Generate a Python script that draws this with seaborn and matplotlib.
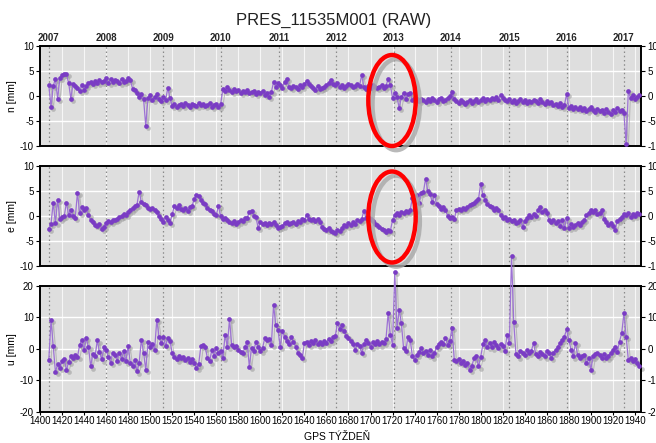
import numpy as np
import pandas as pd
import seaborn as sns
import matplotlib
matplotlib.use("Agg")
import matplotlib.pyplot as plt
import matplotlib.transforms as mtransforms
from matplotlib.patches import Ellipse

# ---------------- data ----------------
weeks = list(range(1408, 1945, 2))

n_mm = [
    2.2, -2.2, 2.0, 3.4, -0.6, 3.6, 4.2, 4.4, 4.4, 2.6,
    -0.5, 2.4, 2.0, 1.6, 1.0, 2.2, 1.2, 2.0, 2.6, 2.8,
    2.4, 3.0, 2.6, 3.2, 2.8, 3.0, 3.6, 2.6, 3.4, 2.8,
    3.2, 3.0, 2.6, 3.4, 2.8, 3.0, 3.6, 3.2, 1.5, 1.2,
    0.6, -0.2, 0.4, -0.6, -6.0, -0.4, 0.2, -0.8, -0.2, 0.4,
    -0.6, -1.0, -0.2, -0.8, 1.6, -0.4, -2.0, -1.6, -2.2, -1.8,
    -1.6, -2.0, -1.4, -1.8, -2.2, -1.6, -1.8, -2.0, -1.4, -1.8,
    -1.6, -2.0, -1.8, -1.4, -2.2, -1.8, -1.6, -2.2, -1.6, 1.4,
    1.0, 1.8, 1.2, 0.8, 1.4, 1.0, 1.2, 0.6, 1.0, 0.8,
    1.2, 0.6, 0.8, 1.0, 0.4, 0.8, 0.6, 1.0, 0.2, 0.6,
    -0.2, 0.8, 2.8, 1.8, 2.6, 2.2, 1.6, 2.8, 3.4, 1.8,
    1.6, 2.0, 1.8, 1.4, 2.2, 1.8, 2.4, 3.0, 2.4, 2.0,
    1.6, 1.2, 2.0, 1.4, 1.6, 1.8, 2.2, 2.6, 3.2, 2.4,
    2.2, 2.6, 1.8, 2.2, 1.6, 2.0, 2.4, 2.2, 1.8, 2.0,
    2.4, 2.0, 4.2, 1.8, 1.4, 2.0, 1.6, 2.2, 1.8, 1.6,
    1.8, 2.2, 1.6, 2.0, 3.4, 2.2, -0.4, 0.6, -0.2, -2.4,
    -0.2, 0.6, -0.6, 0.4, 0.6, -0.8, -0.4, -0.6, -1.0, -0.6,
    -0.8, -1.2, -0.6, -1.0, -0.4, -0.8, -1.2, -0.6, -0.4, -1.0,
    -0.8, -0.4, 0.0, 0.8, -0.6, -1.0, -1.4, -0.8, -1.2, -1.6,
    -1.2, -0.8, -1.4, -1.0, -0.6, -1.2, -0.8, -0.4, -1.0, -0.6,
    -0.8, -0.4, -0.6, -0.2, -0.8, 0.2, -0.4, -0.8, -1.0, -0.6,
    -1.2, -0.8, -1.4, -1.0, -0.6, -1.2, -0.8, -1.4, -1.0, -1.2,
    -0.8, -1.0, -1.4, -0.6, -1.2, -1.6, -1.0, -1.4, -1.2, -1.8,
    -1.6, -2.0, -1.4, -2.2, -1.8, 0.4, -2.4, -2.0, -2.6, -2.2,
    -2.6, -2.2, -2.8, -2.4, -3.0, -2.6, -2.2, -2.8, -3.2, -2.6,
    -3.0, -2.8, -3.4, -2.6, -3.2, -3.6, -2.8, -3.2, -2.4, -3.0,
    -2.8, -3.4, -9.6, 1.0, -0.4, 0.2, -0.6, -0.2, 0.2,
]

e_mm = [
    -2.5, -1.6, 2.7, -1.4, 3.3, -0.5, -0.2, 0.0, 2.7, 0.2,
    1.2, 0.0, -0.4, 4.7, 0.6, 1.8, 1.2, 1.6, 0.2, -0.8,
    -1.2, -1.8, -2.0, -1.6, -2.5, -2.2, -1.4, -1.0, -1.2, -0.8,
    -0.8, -0.6, -0.2, 0.0, 0.4, 0.2, 0.8, 1.2, 1.6, 2.0,
    2.2, 4.9, 2.8, 2.4, 2.2, 1.6, 1.4, 1.6, 1.2, 0.8,
    0.0, -0.6, -1.2, -0.2, -0.8, -1.4, 0.4, 2.0, 1.6, 2.2,
    1.4, 1.2, 1.6, 1.0, 1.8, 2.0, 3.4, 4.2, 4.0, 3.2,
    2.6, 2.4, 1.6, 1.2, 1.0, 0.4, 0.2, 2.0, 0.0, -0.6,
    -0.4, -0.8, -1.2, -1.4, -1.0, -1.6, -1.2, -0.8, -1.0, -0.4,
    -0.4, 0.8, 1.1, 0.0, -0.2, -2.4, -1.2, -1.6, -1.4, -1.8,
    -1.4, -1.6, -1.2, -1.8, -2.3, -2.2, -2.0, -1.4, -1.2, -1.6,
    -1.4, -1.2, -1.5, -1.0, -1.2, -0.5, -0.8, 0.2, -0.6, -0.8,
    -0.6, -1.0, -0.6, -1.2, -2.2, -2.6, -2.8, -2.4, -3.0, -3.2,
    -3.4, -2.8, -3.0, -2.4, -1.8, -2.0, -1.4, -1.8, -1.2, -1.6,
    -0.8, -1.0, -0.6, 1.1, -0.4, -0.2, -0.6, -1.0, -1.6, -1.8,
    -2.2, -2.6, -2.8, -3.2, -2.8, -3.0, -0.8, 0.2, 0.6, 0.2,
    0.8, 0.6, 1.0, 0.8, 1.2, 3.6, 1.2, 4.2, 2.6, 4.6,
    4.8, 7.5, 5.0, 4.4, 2.8, 4.2, 2.4, 2.0, 1.4, 1.8,
    1.2, 0.0, -0.4, -0.2, -0.6, 1.2, 1.4, 1.2, 1.6, 1.4,
    1.8, 2.2, 2.4, 2.6, 3.0, 3.4, 6.5, 4.2, 3.2, 2.4,
    2.0, 1.8, 1.2, 1.6, 1.2, 0.2, -0.4, -0.2, -0.8, -0.6,
    -1.0, -0.8, -1.4, -1.2, -0.8, -2.1, -1.0, -0.4, 0.2, -0.2,
    0.4, 0.0, 1.2, 1.9, 0.8, 1.2, 0.6, -0.8, -1.2, -0.8,
    -1.4, -1.0, -2.0, -0.8, -2.4, -0.3, -2.4, -1.6, -2.2, -1.8,
    -1.4, -1.8, -1.2, -0.8, 0.2, 0.6, 1.2, 0.8, 1.2, 0.4,
    0.6, 1.2, -0.6, -1.2, -1.8, -1.4, -2.0, -2.8, -1.0, -0.6,
    -0.2, 0.4, 0.2, 0.6, -0.2, 0.4, 0.0, 0.6, 0.4,
]

u_mm = [
    -3.5, 9.2, 1.0, -7.4, -5.0, -6.2, -4.0, -3.2, -6.8, -4.2,
    -2.4, -3.0, -2.0, -2.6, 1.2, 2.9, -0.4, 3.4, 0.6, -5.6,
    -1.6, -2.4, 2.7, -1.0, -3.4, 0.4, -0.4, -2.6, -4.4, -1.2,
    -2.0, -3.8, -1.2, -3.2, -0.8, -4.0, 0.8, -4.6, -5.4, -3.6,
    -7.2, -4.6, 2.9, -1.2, -6.8, 2.2, 0.6, 1.6, -0.4, 9.2,
    3.9, 1.8, 3.9, 0.8, 3.4, 2.4, -1.4, -2.6, -3.4, -2.4,
    -3.0, -2.6, -3.6, -2.8, -4.2, -3.2, -4.4, -6.2, -5.0, 0.8,
    1.3, 0.4, -3.0, -4.0, -0.3, -2.4, 0.2, -1.2, -0.6, -3.0,
    4.5, 0.6, 9.4, 1.3, 0.6, 1.0, -0.3, -1.0, -1.4, 0.4,
    2.3, -5.8, 0.2, -0.8, 2.3, 0.6, -0.6, 0.2, 3.4, 2.9,
    3.0, 1.3, 14.0, 7.6, 6.0, 0.7, 5.5, 3.9, 2.6, 1.4,
    3.6, 2.3, 0.7, -1.2, -1.9, -3.0, 1.8, 2.3, 1.3, 2.6,
    1.8, 2.9, 1.4, 2.3, 1.6, 2.6, 1.8, 3.2, 2.4, 3.6,
    4.0, 8.2, 6.4, 7.6, 5.5, 4.2, 3.4, 2.4, 1.6, -0.3,
    1.6, 0.8, -1.4, 1.4, 2.9, 1.8, 0.7, 2.2, 1.4, 2.6,
    1.4, 2.2, 1.8, 3.0, 11.3, 4.5, 1.3, 24.4, 6.6, 12.4,
    8.2, 0.2, -0.8, 3.9, 2.9, -2.4, -3.5, -2.0, -1.0, 0.2,
    -1.2, -0.6, -1.9, -0.4, -2.4, -1.4, 0.7, 1.4, 2.3, 1.6,
    3.4, 1.3, 2.6, 6.6, -3.5, -4.0, -3.2, -4.6, -3.8, -5.2,
    -4.6, -6.7, -5.4, -3.0, -2.4, -5.6, -2.6, 1.4, 2.9, 0.7,
    1.8, 0.4, 2.0, 1.2, 0.2, 1.6, 0.8, -0.6, 4.5, 1.8,
    29.5, 8.4, -1.6, -2.4, -0.8, -1.2, -1.9, -0.3, -1.4, -0.6,
    1.8, -1.6, -2.2, -1.0, -1.8, -2.4, -0.6, -1.4, -3.0, -1.2,
    -0.4, 0.6, 1.8, 2.9, 3.9, 6.2, 2.8, -0.3, -2.4, 1.8,
    -1.9, -3.0, -2.4, -2.0, -4.6, -3.0, -6.7, -2.4, -1.8, -1.4,
    -2.0, -2.8, -1.6, -3.0, -2.2, -1.4, -0.3, 0.7, -1.0, 2.3,
    5.0, 11.3, 3.9, -3.5, -3.0, -4.0, -3.4, -4.6, -5.6,
]

year_weeks = [1408, 1460, 1512, 1564, 1617, 1669, 1721, 1773, 1826, 1878, 1930]
year_labels = ["2007", "2008", "2009", "2010", "2011", "2012",
               "2013", "2014", "2015", "2016", "2017"]
x_ticks = list(range(1400, 1941, 20))
highlight_week = 1721

title = "PRES_11535M001 (RAW)"
x_label = "GPS TÝŽDEŇ"
y_labels = ["n [mm]", "e [mm]", "u [mm]"]

# ---------------- style ----------------
sns.set_theme(style="white")
plt.rcParams["font.family"] = ["Liberation Sans", "DejaVu Sans"]

W, H = 656, 443
fig = plt.figure(figsize=(W / 100, H / 100), dpi=100)

def frac(x0, y0, x1, y1):
    return [x0 / W, 1 - y1 / H, (x1 - x0) / W, (y1 - y0) / H]

boxes = [frac(40, 46, 641, 146), frac(40, 166, 641, 266), frac(40, 286, 641, 411.5)]
limits = [(-10, 10), (-10, 10), (-20, 20)]
yticks = [[-10, -5, 0, 5, 10], [-10, -5, 0, 5, 10], [-20, -10, 0, 10, 20]]
series = [n_mm, e_mm, u_mm]

df = pd.DataFrame({"week": weeks, "n": n_mm, "e": e_mm, "u": u_mm})

dot_color = "#7a3cc4"
line_color = "#9d72d4"
shadow_color = "#9a9a9a"

axes = []
for i, (box, lim, yt, col) in enumerate(zip(boxes, limits, yticks, ["n", "e", "u"])):
    ax = fig.add_axes(box)
    axes.append(ax)
    ax.set_facecolor("#dedede")
    ax.set_xlim(1400, 1945.5)
    ax.set_ylim(*lim)
    # grid
    for xt in x_ticks:
        ax.axvline(xt, color="white", lw=0.8, alpha=0.75, zorder=0.5)
    for yv in yt[1:-1]:
        ax.axhline(yv, color="white", lw=1.0, zorder=0.5)
    for yw in year_weeks:
        ax.axvline(yw, color="#8a8a8a", lw=0.9, ls=(0, (1.2, 2.2)), zorder=0.8)

    clip = (col != "u")
    shadow_tr = ax.transData + mtransforms.ScaledTranslation(1.6 / 72, -1.6 / 72, fig.dpi_scale_trans)
    sns.lineplot(data=df, x="week", y=col, ax=ax, sort=False, estimator=None,
                 color=shadow_color, lw=0.8, alpha=0.55, marker="o", markersize=3.4,
                 markeredgewidth=0, transform=shadow_tr, clip_on=clip, zorder=2)
    sns.lineplot(data=df, x="week", y=col, ax=ax, sort=False, estimator=None,
                 color=line_color, lw=0.9, marker="o", markersize=3.4,
                 markerfacecolor=dot_color, markeredgewidth=0, clip_on=clip, zorder=3)

    ax.set_yticks(yt)
    ax.set_yticklabels([str(v) for v in yt])
    ax.tick_params(axis="y", which="both", left=True, right=True, labelleft=True,
                   labelright=True, direction="out", length=3, width=0.8,
                   labelsize=7, pad=1.5, colors="black")
    ax.set_xticks(x_ticks)
    if i == 2:
        ax.tick_params(axis="x", bottom=True, labelbottom=True, length=2, width=0.8,
                       labelsize=7, pad=1.5, colors="black")
        ax.set_xticklabels([str(v) for v in x_ticks])
    else:
        ax.tick_params(axis="x", bottom=False, labelbottom=False)
    ax.set_xlabel("")
    ax.set_ylabel(y_labels[i], fontsize=7.5, color="black")
    ax.yaxis.set_label_coords(-0.038, 0.5)
    for s in ax.spines.values():
        s.set_color("black")
        s.set_linewidth(1.4)

# year labels on top
sec = axes[0].secondary_xaxis("top")
sec.set_xticks(year_weeks)
sec.set_xticklabels(year_labels, fontsize=7, fontweight="bold")
sec.tick_params(axis="x", length=0, pad=2.5)
sec.spines["top"].set_visible(False)

# red ellipse highlights
for ax, yc in [(axes[0], -0.9), (axes[1], -0.2)]:
    sh = ax.transData + mtransforms.ScaledTranslation(3.0 / 72, -3.0 / 72, fig.dpi_scale_trans)
    ax.add_patch(Ellipse((highlight_week - 1.5, yc), 43, 18.2, fill=False,
                         edgecolor="#a8a8a8", lw=3.2, alpha=0.8, transform=sh,
                         clip_on=False, zorder=9))
    ax.add_patch(Ellipse((highlight_week - 1.5, yc), 43, 18.2, fill=False,
                         edgecolor="#ff0000", lw=3.2, clip_on=False, zorder=10))

fig.text(334 / W, 1 - 20 / H, title, ha="center", va="center", fontsize=12, color="#222222")
fig.text(337 / W, 1 - 437 / H, x_label, ha="center", va="center", fontsize=7.5, color="black")

fig.savefig("out.png", dpi=100)
